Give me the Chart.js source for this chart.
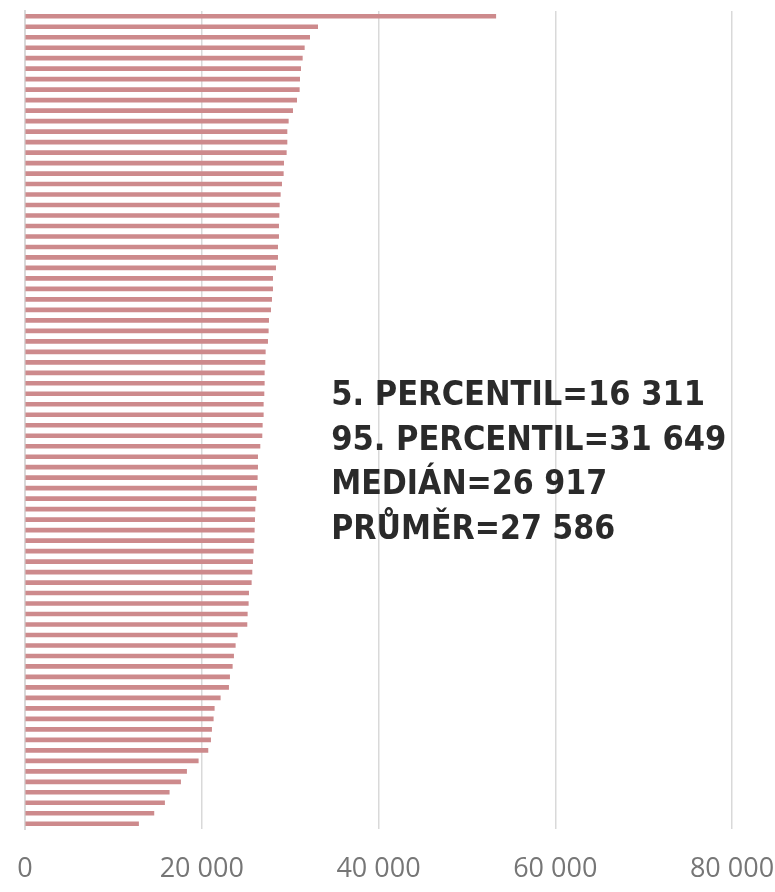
<!DOCTYPE html>
<html>
<head>
<meta charset="utf-8">
<script src="https://cdn.jsdelivr.net/npm/chart.js@4.4.1/dist/chart.umd.min.js"></script>
<style>
    html, body { margin: 0; padding: 0; background: #fff; }
    #wrap { width: 775px; height: 892px; position: relative; }
</style>
</head>
<body>
<div id="wrap"><canvas id="chart"></canvas></div>
<script>
// values, sorted from largest (top) to smallest (bottom)
const values = [
    53270, 33117, 32211, 31607, 31381, 31192, 31079, 31041, 30739, 30286,
    29796, 29645, 29645, 29569, 29267, 29230, 29041, 28890, 28777, 28739,
    28701, 28701, 28588, 28588, 28362, 28022, 28022, 27909, 27795, 27569,
    27531, 27456, 27192, 27154, 27078, 27078, 27041, 26965, 26965, 26852,
    26814, 26588, 26324, 26324, 26286, 26210, 26135, 26022, 25984, 25946,
    25909, 25833, 25758, 25682, 25607, 25305, 25267, 25154, 25116, 24022,
    23795, 23606, 23456, 23154, 23040, 22097, 21417, 21304, 21115, 21002,
    20700, 19606, 18285, 17606, 16323, 15794, 14586, 12850
];
const categories = values.map((v, i) => String(i + 1));
const xTicks = [0, 20000, 40000, 60000, 80000];
const statLines = [
    '5. PERCENTIL=16 311',
    '95. PERCENTIL=31 649',
    'MEDIÁN=26 917',
    'PRŮMĚR=27 586'
];

function fmt(v) {
    return String(v).replace(/\B(?=(\d{3})+(?!\d))/g, ' ');
}

// draws the statistics block on the right
const statsPlugin = {
    id: 'stats',
    afterDraw(chart) {
        const ctx = chart.ctx;
        const x = chart.scales.x.getPixelForValue(34650);
        const top = chart.chartArea.top;
        ctx.save();
        ctx.fillStyle = '#2a2a2a';
        ctx.font = "bold 34px 'DejaVu Sans Condensed', 'DejaVu Sans', sans-serif";
        ctx.textBaseline = 'alphabetic';
        ctx.textAlign = 'left';
        statLines.forEach((t, i) => {
            const w = ctx.measureText(t).width;
            const target = [378, 400, 276, 284][i];
            ctx.save();
            ctx.translate(x, top + 394 + i * 44.5);
            if (w > target) ctx.scale(target / w, 1);
            ctx.fillText(t, 0, 0);
            ctx.restore();
        });
        ctx.restore();
    }
};

new Chart(document.getElementById('chart'), {
    type: 'bar',
    data: {
        labels: categories,
        datasets: [{
            data: values,
            backgroundColor: '#cd8a8c',
            barThickness: 4
        }]
    },
    options: {
        indexAxis: 'y',
        responsive: true,
        maintainAspectRatio: false,
        animation: false,
        layout: { padding: { left: 25, top: 11, bottom: 6, right: 43 } },
        plugins: {
            legend: { display: false },
            tooltip: { enabled: false }
        },
        scales: {
            x: {
                min: 0,
                max: 80000,
                afterBuildTicks: axis => { axis.ticks = xTicks.map(v => ({ value: v })); },
                afterFit: axis => {
                    axis.height = 57;
                    axis.paddingLeft = 0;
                    axis.paddingRight = 0;
                },
                grid: { color: '#d9d9d9', lineWidth: 1.5, drawTicks: false },
                border: { display: false },
                ticks: {
                    color: '#767676',
                    padding: 24,
                    maxRotation: 0,
                    font: { family: "'Open Sans'", size: 27 },
                    callback: v => fmt(v)
                }
            },
            y: {
                afterFit: axis => {
                    axis.width = 0;
                    axis.paddingTop = 0;
                    axis.paddingBottom = 0;
                },
                grid: { display: false },
                border: { color: '#d9d9d9', width: 2 },
                ticks: { display: false }
            }
        }
    },
    plugins: [statsPlugin]
});
</script>
</body>
</html>
